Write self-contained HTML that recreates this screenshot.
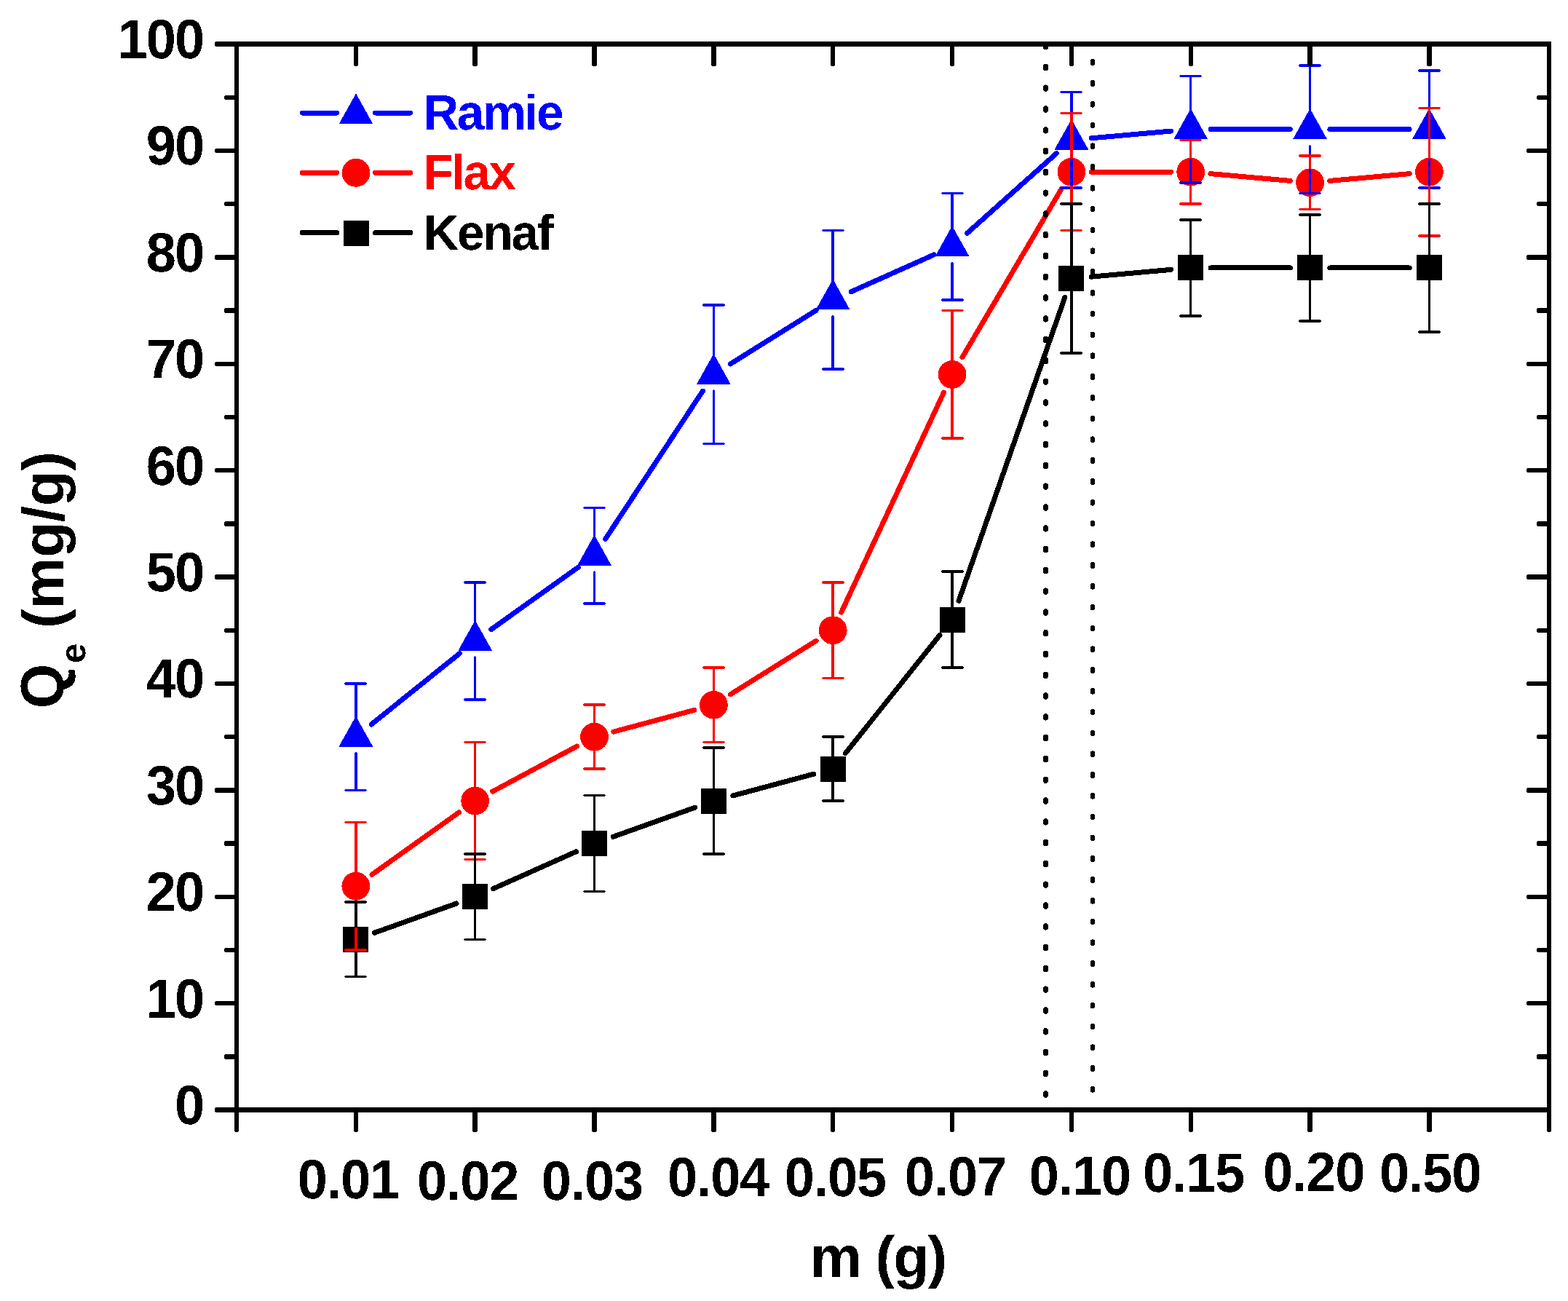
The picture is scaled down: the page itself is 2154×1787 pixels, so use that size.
<!DOCTYPE html>
<html lang="en"><head><meta charset="utf-8"><title>Qe vs m (g): Ramie, Flax, Kenaf</title>
<style>
html,body{margin:0;padding:0;background:#fff;}
body{width:2154px;height:1787px;overflow:hidden;}
svg{display:block;}
svg text{font-family:"Liberation Sans",sans-serif;font-weight:700;font-kerning:none;text-rendering:geometricPrecision;white-space:pre;}
</style></head><body>
<svg width="2154" height="1787" viewBox="0 0 2154 1787" shape-rendering="crispEdges">
<defs><filter id="crisp" x="-5%" y="-5%" width="110%" height="110%" color-interpolation-filters="sRGB"><feComponentTransfer><feFuncA type="discrete" tableValues="0 1"/></feComponentTransfer></filter></defs>
<rect x="0" y="0" width="2154" height="1787" fill="#fff"/>
<g id="series">
<line x1="510.12" y1="995.06" x2="631.42" y2="897.51" stroke="#0000ff" stroke-width="7" stroke-linecap="round"/>
<line x1="674.9" y1="864.52" x2="794.32" y2="779.14" stroke="#0000ff" stroke-width="7" stroke-linecap="round"/>
<line x1="831.54" y1="740.46" x2="965.36" y2="537.17" stroke="#0000ff" stroke-width="7" stroke-linecap="round"/>
<line x1="1003.51" y1="499.89" x2="1121.07" y2="426.36" stroke="#0000ff" stroke-width="7" stroke-linecap="round"/>
<line x1="1169.14" y1="400.75" x2="1283.12" y2="349.82" stroke="#0000ff" stroke-width="7" stroke-linecap="round"/>
<line x1="1328.41" y1="320.49" x2="1451.53" y2="210.46" stroke="#0000ff" stroke-width="7" stroke-linecap="round"/>
<line x1="1499.08" y1="189.84" x2="1608.54" y2="180.06" stroke="#0000ff" stroke-width="7" stroke-linecap="round"/>
<line x1="1663.03" y1="177.63" x2="1772.27" y2="177.63" stroke="#0000ff" stroke-width="7" stroke-linecap="round"/>
<line x1="1826.87" y1="177.63" x2="1936.11" y2="177.63" stroke="#0000ff" stroke-width="7" stroke-linecap="round"/>
<polygon points="488.85,984.66 511.45,1025.16 466.25,1025.16" fill="#0000ff" stroke="#0000ff" stroke-width="1" stroke-linejoin="round"/>
<polygon points="652.69,852.9 675.29,893.4 630.09,893.4" fill="#0000ff" stroke="#0000ff" stroke-width="1" stroke-linejoin="round"/>
<polygon points="816.53,735.77 839.13,776.27 793.93,776.27" fill="#0000ff" stroke="#0000ff" stroke-width="1" stroke-linejoin="round"/>
<polygon points="980.37,486.87 1002.97,527.37 957.77,527.37" fill="#0000ff" stroke="#0000ff" stroke-width="1" stroke-linejoin="round"/>
<polygon points="1144.21,384.38 1166.81,424.88 1121.61,424.88" fill="#0000ff" stroke="#0000ff" stroke-width="1" stroke-linejoin="round"/>
<polygon points="1308.05,311.18 1330.65,351.68 1285.45,351.68" fill="#0000ff" stroke="#0000ff" stroke-width="1" stroke-linejoin="round"/>
<polygon points="1471.89,164.77 1494.49,205.27 1449.29,205.27" fill="#0000ff" stroke="#0000ff" stroke-width="1" stroke-linejoin="round"/>
<polygon points="1635.73,150.13 1658.33,190.63 1613.13,190.63" fill="#0000ff" stroke="#0000ff" stroke-width="1" stroke-linejoin="round"/>
<polygon points="1799.57,150.13 1822.17,190.63 1776.97,190.63" fill="#0000ff" stroke="#0000ff" stroke-width="1" stroke-linejoin="round"/>
<polygon points="1963.41,150.13 1986.01,190.63 1940.81,190.63" fill="#0000ff" stroke="#0000ff" stroke-width="1" stroke-linejoin="round"/>
<line x1="511.06" y1="1201.26" x2="630.48" y2="1115.89" stroke="#ff0000" stroke-width="7" stroke-linecap="round"/>
<line x1="676.75" y1="1087.11" x2="792.47" y2="1025.07" stroke="#ff0000" stroke-width="7" stroke-linecap="round"/>
<line x1="842.9" y1="1005.1" x2="954" y2="975.31" stroke="#ff0000" stroke-width="7" stroke-linecap="round"/>
<line x1="1003.51" y1="953.76" x2="1121.07" y2="880.23" stroke="#ff0000" stroke-width="7" stroke-linecap="round"/>
<line x1="1155.75" y1="841.01" x2="1296.51" y2="539.11" stroke="#ff0000" stroke-width="7" stroke-linecap="round"/>
<line x1="1321.9" y1="490.85" x2="1458.04" y2="259.72" stroke="#ff0000" stroke-width="7" stroke-linecap="round"/>
<line x1="1499.19" y1="236.19" x2="1608.43" y2="236.19" stroke="#ff0000" stroke-width="7" stroke-linecap="round"/>
<line x1="1662.92" y1="238.62" x2="1772.38" y2="248.4" stroke="#ff0000" stroke-width="7" stroke-linecap="round"/>
<line x1="1826.76" y1="248.4" x2="1936.22" y2="238.62" stroke="#ff0000" stroke-width="7" stroke-linecap="round"/>
<circle cx="488.85" cy="1217.14" r="19.4" fill="#ff0000"/>
<circle cx="652.69" cy="1100.01" r="19.4" fill="#ff0000"/>
<circle cx="816.53" cy="1012.16" r="19.4" fill="#ff0000"/>
<circle cx="980.37" cy="968.24" r="19.4" fill="#ff0000"/>
<circle cx="1144.21" cy="865.75" r="19.4" fill="#ff0000"/>
<circle cx="1308.05" cy="514.37" r="19.4" fill="#ff0000"/>
<circle cx="1471.89" cy="236.19" r="19.4" fill="#ff0000"/>
<circle cx="1635.73" cy="236.19" r="19.4" fill="#ff0000"/>
<circle cx="1799.57" cy="250.83" r="19.4" fill="#ff0000"/>
<circle cx="1963.41" cy="236.19" r="19.4" fill="#ff0000"/>
<line x1="514.56" y1="1281.16" x2="626.98" y2="1240.97" stroke="#000000" stroke-width="7" stroke-linecap="round"/>
<line x1="677.62" y1="1220.64" x2="791.6" y2="1169.71" stroke="#000000" stroke-width="7" stroke-linecap="round"/>
<line x1="842.24" y1="1149.39" x2="954.66" y2="1109.2" stroke="#000000" stroke-width="7" stroke-linecap="round"/>
<line x1="1006.74" y1="1092.94" x2="1117.84" y2="1063.16" stroke="#000000" stroke-width="7" stroke-linecap="round"/>
<line x1="1161.26" y1="1034.76" x2="1291" y2="872.44" stroke="#000000" stroke-width="7" stroke-linecap="round"/>
<line x1="1317.06" y1="825.34" x2="1462.88" y2="408.37" stroke="#000000" stroke-width="7" stroke-linecap="round"/>
<line x1="1499.08" y1="380.17" x2="1608.54" y2="370.39" stroke="#000000" stroke-width="7" stroke-linecap="round"/>
<line x1="1663.03" y1="367.96" x2="1772.27" y2="367.96" stroke="#000000" stroke-width="7" stroke-linecap="round"/>
<line x1="1826.87" y1="367.96" x2="1936.11" y2="367.96" stroke="#000000" stroke-width="7" stroke-linecap="round"/>
<rect x="471.35" y="1272.84" width="35" height="35" fill="#000000"/>
<rect x="635.19" y="1214.28" width="35" height="35" fill="#000000"/>
<rect x="799.03" y="1141.07" width="35" height="35" fill="#000000"/>
<rect x="962.87" y="1082.51" width="35" height="35" fill="#000000"/>
<rect x="1126.71" y="1038.59" width="35" height="35" fill="#000000"/>
<rect x="1290.55" y="833.61" width="35" height="35" fill="#000000"/>
<rect x="1454.39" y="365.1" width="35" height="35" fill="#000000"/>
<rect x="1618.23" y="350.46" width="35" height="35" fill="#000000"/>
<rect x="1782.07" y="350.46" width="35" height="35" fill="#000000"/>
<rect x="1945.91" y="350.46" width="35" height="35" fill="#000000"/>
</g>
<g id="errors">
<path d="M487 939H491V991H487ZM487 1034H491V1085H487ZM488 1033H490V1034H488ZM474 937H503V941H474ZM473 938H474V940H473ZM503 938H504V940H503ZM474 1084H503V1087H474ZM473 1085H474V1086H473ZM503 1085H504V1086H503ZM651 800H654V859H651ZM651 902H654V961H651ZM652 901H653V902H652ZM638 798H667V802H638ZM637 799H638V801H637ZM667 799H668V801H667ZM638 959H667V963H638ZM637 960H638V962H637ZM667 960H668V962H667ZM815 697H818V742H815ZM815 785H818V829H815ZM816 784H817V785H816ZM802 696H831V699H802ZM801 697H802V698H801ZM831 697H832V698H831ZM802 827H831V831H802ZM801 828H802V830H801ZM831 828H832V830H831ZM979 419H982V493H979ZM979 536H982V610H979ZM980 535H981V536H980ZM966 417H995V421H966ZM965 418H966V420H965ZM995 418H996V420H995ZM966 608H995V611H966ZM965 609H966V610H965ZM995 609H996V610H995ZM1142 317H1146V391H1142ZM1142 434H1146V507H1142ZM1143 433H1145V434H1143ZM1130 315H1159V318H1130ZM1129 316H1130V317H1129ZM1159 316H1160V317H1159ZM1130 505H1159V509H1130ZM1129 506H1130V508H1129ZM1159 506H1160V508H1159ZM1306 265H1310V318H1306ZM1306 361H1310V412H1306ZM1307 360H1309V361H1307ZM1294 264H1323V267H1294ZM1293 265H1294V266H1293ZM1323 265H1324V266H1323ZM1294 410H1323V414H1294ZM1293 411H1294V413H1293ZM1323 411H1324V413H1323ZM1470 126H1474V171H1470ZM1470 214H1474V258H1470ZM1471 213H1473V214H1471ZM1457 125H1486V128H1457ZM1456 126H1457V127H1456ZM1486 126H1487V127H1486ZM1457 256H1486V260H1457ZM1456 257H1457V259H1456ZM1486 257H1487V259H1486ZM1634 104H1637V157H1634ZM1634 200H1637V251H1634ZM1635 199H1636V200H1635ZM1621 103H1650V106H1621ZM1620 104H1621V105H1620ZM1650 104H1651V105H1650ZM1621 249H1650V253H1621ZM1620 250H1621V252H1620ZM1650 250H1651V252H1650ZM1798 90H1801V157H1798ZM1798 200H1801V265H1798ZM1799 199H1800V200H1799ZM1785 88H1814V92H1785ZM1784 89H1785V91H1784ZM1814 89H1815V91H1814ZM1785 264H1814V267H1785ZM1784 265H1785V266H1784ZM1814 265H1815V266H1814ZM1962 97H1965V157H1962ZM1962 200H1965V258H1962ZM1963 199H1964V200H1963ZM1949 95H1978V99H1949ZM1948 96H1949V98H1948ZM1978 96H1979V98H1978ZM1949 256H1978V260H1949ZM1948 257H1949V259H1948ZM1978 257H1979V259H1978Z" fill="#0000ff"/>
<path d="M487 1129H491V1199H487ZM487 1236H491V1305H487ZM474 1128H503V1131H474ZM473 1129H474V1130H473ZM503 1129H504V1130H503ZM474 1303H503V1307H474ZM473 1304H474V1306H473ZM503 1304H504V1306H503ZM651 1019H654V1082H651ZM651 1119H654V1181H651ZM638 1018H667V1021H638ZM637 1019H638V1020H637ZM667 1019H668V1020H667ZM638 1179H667V1182H638ZM637 1180H638V1181H637ZM667 1180H668V1181H667ZM815 968H818V994H815ZM815 1031H818V1056H815ZM802 966H831V970H802ZM801 967H802V969H801ZM831 967H832V969H831ZM802 1054H831V1058H802ZM801 1055H802V1057H801ZM831 1055H832V1057H831ZM979 917H982V950H979ZM979 987H982V1019H979ZM966 915H995V919H966ZM965 916H966V918H965ZM995 916H996V918H995ZM966 1018H995V1021H966ZM965 1019H966V1020H965ZM995 1019H996V1020H995ZM1142 800H1146V847H1142ZM1142 884H1146V932H1142ZM1130 798H1159V802H1130ZM1129 799H1130V801H1129ZM1159 799H1160V801H1159ZM1130 930H1159V933H1130ZM1129 931H1130V932H1129ZM1159 931H1160V932H1159ZM1306 427H1310V496H1306ZM1306 533H1310V602H1306ZM1294 425H1323V428H1294ZM1293 426H1294V427H1293ZM1323 426H1324V427H1323ZM1294 600H1323V604H1294ZM1293 601H1294V603H1293ZM1323 601H1324V603H1323ZM1470 156H1474V218H1470ZM1470 255H1474V317H1470ZM1457 154H1486V157H1457ZM1456 155H1457V156H1456ZM1486 155H1487V156H1486ZM1457 315H1486V318H1457ZM1456 316H1457V317H1456ZM1486 316H1487V317H1486ZM1634 192H1637V218H1634ZM1634 255H1637V280H1634ZM1621 191H1650V194H1621ZM1620 192H1621V193H1620ZM1650 192H1651V193H1650ZM1621 278H1650V282H1621ZM1620 279H1621V281H1620ZM1650 279H1651V281H1650ZM1798 214H1801V232H1798ZM1798 269H1801V287H1798ZM1785 212H1814V216H1785ZM1784 213H1785V215H1784ZM1814 213H1815V215H1814ZM1785 286H1814V289H1785ZM1784 287H1785V288H1784ZM1814 287H1815V288H1814ZM1962 148H1965V218H1962ZM1962 255H1965V324H1962ZM1949 147H1978V150H1949ZM1948 148H1949V149H1948ZM1978 148H1979V149H1978ZM1949 322H1978V326H1949ZM1948 323H1949V325H1948ZM1978 323H1979V325H1978Z" fill="#ff0000"/>
<path d="M487 1239H491V1274H487ZM487 1307H491V1342H487ZM474 1237H503V1241H474ZM473 1238H474V1240H473ZM503 1238H504V1240H503ZM474 1340H503V1343H474ZM473 1341H474V1342H473ZM503 1341H504V1342H503ZM651 1173H654V1215H651ZM651 1248H654V1290H651ZM638 1171H667V1175H638ZM637 1172H638V1174H637ZM667 1172H668V1174H667ZM638 1289H667V1292H638ZM637 1290H638V1291H637ZM667 1290H668V1291H667ZM815 1093H818V1142H815ZM815 1175H818V1224H815ZM802 1091H831V1094H802ZM801 1092H802V1093H801ZM831 1092H832V1093H831ZM802 1223H831V1226H802ZM801 1224H802V1225H801ZM831 1224H832V1225H831ZM979 1027H982V1084H979ZM979 1117H982V1173H979ZM966 1025H995V1029H966ZM965 1026H966V1028H965ZM995 1026H996V1028H995ZM966 1171H995V1175H966ZM965 1172H966V1174H965ZM995 1172H996V1174H995ZM1142 1012H1146V1040H1142ZM1142 1073H1146V1100H1142ZM1130 1010H1159V1014H1130ZM1129 1011H1130V1013H1129ZM1159 1011H1160V1013H1159ZM1130 1098H1159V1102H1130ZM1129 1099H1130V1101H1129ZM1159 1099H1160V1101H1159ZM1306 785H1310V835H1306ZM1306 868H1310V917H1306ZM1294 783H1323V787H1294ZM1293 784H1294V786H1293ZM1323 784H1324V786H1323ZM1294 915H1323V919H1294ZM1293 916H1294V918H1293ZM1323 916H1324V918H1323ZM1470 280H1474V366H1470ZM1470 399H1474V485H1470ZM1457 278H1486V282H1457ZM1456 279H1457V281H1456ZM1486 279H1487V281H1486ZM1457 483H1486V487H1457ZM1456 484H1457V486H1456ZM1486 484H1487V486H1486ZM1634 302H1637V351H1634ZM1634 384H1637V434H1634ZM1621 300H1650V304H1621ZM1620 301H1621V303H1620ZM1650 301H1651V303H1650ZM1621 432H1650V436H1621ZM1620 433H1621V435H1620ZM1650 433H1651V435H1650ZM1798 295H1801V351H1798ZM1798 384H1801V441H1798ZM1785 293H1814V297H1785ZM1784 294H1785V296H1784ZM1814 294H1815V296H1814ZM1785 439H1814V443H1785ZM1784 440H1785V442H1784ZM1814 440H1815V442H1814ZM1962 280H1965V351H1962ZM1962 384H1965V456H1962ZM1949 278H1978V282H1949ZM1948 279H1949V281H1948ZM1978 279H1979V281H1978ZM1949 454H1978V458H1949ZM1948 455H1949V457H1948ZM1978 455H1979V457H1978Z" fill="#000000"/>
</g>
<clipPath id="plotclip"><rect x="325" y="57" width="1803" height="1471.1"/></clipPath>
<g id="guides" clip-path="url(#plotclip)">
<line x1="1436.5" y1="33.53" x2="1436.5" y2="1544.6" stroke="#000" stroke-width="6.9" stroke-linecap="round" stroke-dasharray="2.6 26.19"/>
<line x1="1501" y1="26.73" x2="1501" y2="1544.6" stroke="#000" stroke-width="6.2" stroke-linecap="round" stroke-dasharray="2.6 26.19"/>
</g>
<g id="axes">
<path d="M322 57H328V1554H322ZM323 1554H327V1555H323ZM2125 57H2131V1554H2125ZM2126 1554H2130V1555H2126ZM296 57H2131V64H296ZM295 58H296V63H295ZM296 1521H2131V1528H296ZM295 1522H296V1527H295ZM309 1448H325V1455H309ZM308 1449H309V1454H308ZM2112 1448H2128V1455H2112ZM2111 1449H2112V1454H2111ZM296 1375H325V1381H296ZM295 1376H296V1380H295ZM2098 1375H2128V1381H2098ZM2097 1376H2098V1380H2097ZM309 1302H325V1308H309ZM308 1303H309V1307H308ZM2112 1302H2128V1308H2112ZM2111 1303H2112V1307H2111ZM296 1229H325V1235H296ZM295 1230H296V1234H295ZM2098 1229H2128V1235H2098ZM2097 1230H2098V1234H2097ZM309 1155H325V1162H309ZM308 1156H309V1161H308ZM2112 1155H2128V1162H2112ZM2111 1156H2112V1161H2111ZM296 1082H325V1089H296ZM295 1083H296V1088H295ZM2098 1082H2128V1089H2098ZM2097 1083H2098V1088H2097ZM309 1009H325V1015H309ZM308 1010H309V1014H308ZM2112 1009H2128V1015H2112ZM2111 1010H2112V1014H2111ZM296 936H325V942H296ZM295 937H296V941H295ZM2098 936H2128V942H2098ZM2097 937H2098V941H2097ZM309 863H325V869H309ZM308 864H309V868H308ZM2112 863H2128V869H2112ZM2111 864H2112V868H2111ZM296 789H325V796H296ZM295 790H296V795H295ZM2098 789H2128V796H2098ZM2097 790H2098V795H2097ZM309 716H325V723H309ZM308 717H309V722H308ZM2112 716H2128V723H2112ZM2111 717H2112V722H2111ZM296 643H325V649H296ZM295 644H296V648H295ZM2098 643H2128V649H2098ZM2097 644H2098V648H2097ZM309 570H325V576H309ZM308 571H309V575H308ZM2112 570H2128V576H2112ZM2111 571H2112V575H2111ZM296 497H325V503H296ZM295 498H296V502H295ZM2098 497H2128V503H2098ZM2097 498H2098V502H2097ZM309 423H325V430H309ZM308 424H309V429H308ZM2112 423H2128V430H2112ZM2111 424H2112V429H2111ZM296 350H325V357H296ZM295 351H296V356H295ZM2098 350H2128V357H2098ZM2097 351H2098V356H2097ZM309 277H325V283H309ZM308 278H309V282H308ZM2112 277H2128V283H2112ZM2111 278H2112V282H2111ZM296 204H325V210H296ZM295 205H296V209H295ZM2098 204H2128V210H2098ZM2097 205H2098V209H2097ZM309 131H325V137H309ZM308 132H309V136H308ZM2112 131H2128V137H2112ZM2111 132H2112V136H2111ZM486 1525H492V1554H486ZM487 1554H491V1555H487ZM486 61H492V90H486ZM487 90H491V91H487ZM649 1525H656V1554H649ZM650 1554H655V1555H650ZM649 61H656V90H649ZM650 90H655V91H650ZM813 1525H820V1554H813ZM814 1554H819V1555H814ZM813 61H820V90H813ZM814 90H819V91H814ZM977 1525H984V1554H977ZM978 1554H983V1555H978ZM977 61H984V90H977ZM978 90H983V91H978ZM1141 1525H1147V1554H1141ZM1142 1554H1146V1555H1142ZM1141 61H1147V90H1141ZM1142 90H1146V91H1142ZM1305 1525H1311V1554H1305ZM1306 1554H1310V1555H1306ZM1305 61H1311V90H1305ZM1306 90H1310V91H1306ZM1469 1525H1475V1554H1469ZM1470 1554H1474V1555H1470ZM1469 61H1475V90H1469ZM1470 90H1474V91H1470ZM1633 1525H1639V1554H1633ZM1634 1554H1638V1555H1634ZM1633 61H1639V90H1633ZM1634 90H1638V91H1634ZM1796 1525H1803V1554H1796ZM1797 1554H1802V1555H1797ZM1796 61H1803V90H1796ZM1797 90H1802V91H1797ZM1960 1525H1967V1554H1960ZM1961 1554H1966V1555H1961ZM1960 61H1967V90H1960ZM1961 90H1966V91H1961Z" fill="#000000"/>
</g>
<g id="labels" filter="url(#crisp)">
<g id="ylabels">
<text transform="translate(239.98 1544) scale(1 1.03)" font-size="74" letter-spacing="-1.955" fill="#000">0</text>
<text transform="translate(200.78 1397.59) scale(1 1.03)" font-size="74" letter-spacing="-1.955" fill="#000">10</text>
<text transform="translate(200.78 1251.18) scale(1 1.03)" font-size="74" letter-spacing="-1.955" fill="#000">20</text>
<text transform="translate(200.78 1104.77) scale(1 1.03)" font-size="74" letter-spacing="-1.955" fill="#000">30</text>
<text transform="translate(200.78 958.36) scale(1 1.03)" font-size="74" letter-spacing="-1.955" fill="#000">40</text>
<text transform="translate(200.78 811.95) scale(1 1.03)" font-size="74" letter-spacing="-1.955" fill="#000">50</text>
<text transform="translate(200.78 665.54) scale(1 1.03)" font-size="74" letter-spacing="-1.955" fill="#000">60</text>
<text transform="translate(200.78 519.13) scale(1 1.03)" font-size="74" letter-spacing="-1.955" fill="#000">70</text>
<text transform="translate(200.78 372.72) scale(1 1.03)" font-size="74" letter-spacing="-1.955" fill="#000">80</text>
<text transform="translate(200.78 226.31) scale(1 1.03)" font-size="74" letter-spacing="-1.955" fill="#000">90</text>
<text transform="translate(161.58 79.9) scale(1 1.03)" font-size="74" letter-spacing="-1.955" fill="#000">100</text>
</g>
<g id="xlabels">
<text transform="translate(408.77 1645.7) scale(1 1.03)" font-size="74" letter-spacing="-1.212" fill="#000">0.01</text>
<text transform="translate(573.07 1648.3) scale(1 1.03)" font-size="74" letter-spacing="-1.212" fill="#000">0.02</text>
<text transform="translate(743.77 1648.3) scale(1 1.03)" font-size="74" letter-spacing="-1.212" fill="#000">0.03</text>
<text transform="translate(917.07 1643.3) scale(1 1.03)" font-size="74" letter-spacing="-1.212" fill="#000">0.04</text>
<text transform="translate(1077.77 1642.7) scale(1 1.03)" font-size="74" letter-spacing="-1.212" fill="#000">0.05</text>
<text transform="translate(1242.77 1641.7) scale(1 1.03)" font-size="74" letter-spacing="-1.212" fill="#000">0.07</text>
<text transform="translate(1413.77 1641) scale(1 1.03)" font-size="74" letter-spacing="-1.212" fill="#000">0.10</text>
<text transform="translate(1570.07 1637.3) scale(1 1.03)" font-size="74" letter-spacing="-1.212" fill="#000">0.15</text>
<text transform="translate(1735.07 1636) scale(1 1.03)" font-size="74" letter-spacing="-1.212" fill="#000">0.20</text>
<text transform="translate(1895.07 1636.7) scale(1 1.03)" font-size="74" letter-spacing="-1.212" fill="#000">0.50</text>
</g>
<g id="legend">
<line x1="415.3" y1="155" x2="462.6" y2="155" stroke="#0000ff" stroke-width="7" stroke-linecap="round"/>
<line x1="515.5" y1="155" x2="563.7" y2="155" stroke="#0000ff" stroke-width="7" stroke-linecap="round"/>
<polygon points="489,129.4 511.6,169.9 466.4,169.9" fill="#0000ff" stroke="#0000ff" stroke-width="1" stroke-linejoin="round"/>
<text transform="translate(581.38 178.1) scale(1 1.01)" font-size="67.5" letter-spacing="-2.369" fill="#0000ff">Ramie</text>
<line x1="415.3" y1="237.3" x2="462.6" y2="237.3" stroke="#ff0000" stroke-width="7" stroke-linecap="round"/>
<line x1="515.5" y1="237.3" x2="563.7" y2="237.3" stroke="#ff0000" stroke-width="7" stroke-linecap="round"/>
<circle cx="489" cy="237.3" r="19.4" fill="#ff0000"/>
<text transform="translate(581.38 260.1) scale(1 1.01)" font-size="67.5" letter-spacing="-2.452" fill="#ff0000">Flax</text>
<line x1="415.3" y1="319.6" x2="462.6" y2="319.6" stroke="#000000" stroke-width="7" stroke-linecap="round"/>
<line x1="515.5" y1="319.6" x2="563.7" y2="319.6" stroke="#000000" stroke-width="7" stroke-linecap="round"/>
<rect x="471.5" y="302.5" width="35" height="35" fill="#000000"/>
<text transform="translate(581.38 342.8) scale(1 1.01)" font-size="67.5" letter-spacing="-2.113" fill="#000000">Kenaf</text>
</g>
<g id="titles">
<text transform="translate(1112.73 1754) scale(1 1)" font-size="80" letter-spacing="-1.788" fill="#000">m (g)</text>
<text transform="translate(87.2 969.9) rotate(-90)" font-size="80" fill="#000"><tspan x="-3.24" y="0.4" font-size="84" textLength="61.46" lengthAdjust="spacingAndGlyphs">Q</tspan><tspan x="58.99" y="30.4" font-size="49">e</tspan><tspan x="84.95" y="0" letter-spacing="-0.261"> (mg/g)</tspan></text>
</g>
</g>
</svg>
</body></html>
